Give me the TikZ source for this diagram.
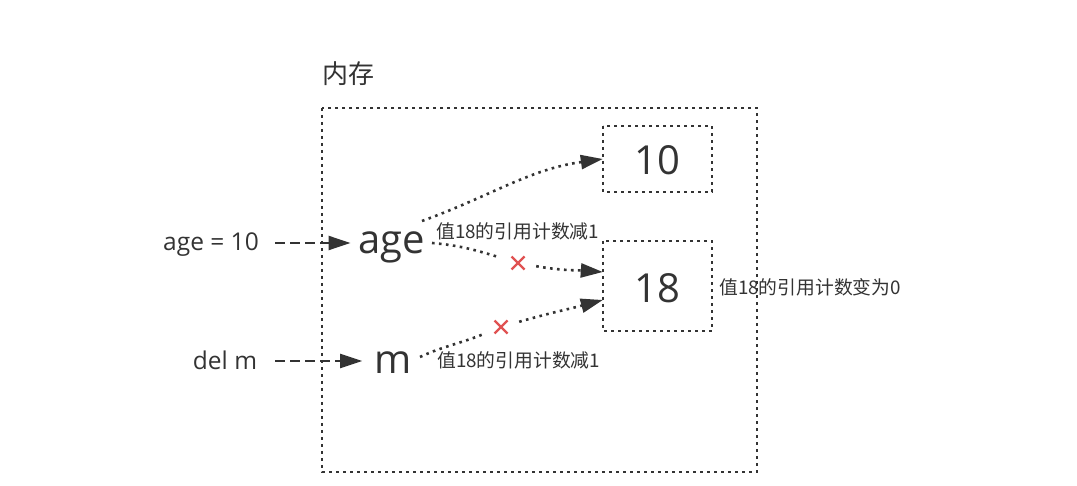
\documentclass[tikz,border=0pt]{standalone}
\usepackage{fontspec}
\setmainfont{Open Sans}
\newfontfamily\cjk{Noto Sans CJK SC}
\usetikzlibrary{arrows.meta}
\definecolor{ink}{HTML}{333333}
\definecolor{crossred}{HTML}{E05252}
\tikzset{
  dotline/.style={draw=ink, line width=2.6pt, dash pattern=on 2.6pt off 4.4pt},
  dotbox/.style={draw=ink, line width=2.6pt, dash pattern=on 2.6pt off 4.4pt},
  dashline/.style={draw=ink, line width=2.4pt, dash pattern=on 10pt off 5pt},
  tip/.style={-{Triangle[length=22pt,width=14pt]}},
  smalltext/.style={text=ink, inner sep=0pt, font=\fontsize{24.5pt}{28pt}\selectfont},
  bigtext/.style={text=ink, inner sep=0pt, font=\fontsize{40pt}{46pt}\selectfont},
  cjklabel/.style={text=ink, inner sep=0pt, font=\cjk\fontsize{18.8pt}{21pt}\selectfont},
  crossmark/.style={minimum size=36pt, inner sep=0pt,
    path picture={\draw[crossred, line width=2.4pt]
      ([shift={(-6.5pt,-6.5pt)}]path picture bounding box.center) -- ([shift={(6.5pt,6.5pt)}]path picture bounding box.center)
      ([shift={(-6.5pt,6.5pt)}]path picture bounding box.center) -- ([shift={(6.5pt,-6.5pt)}]path picture bounding box.center);}},
}
\begin{document}
\begin{tikzpicture}[x=1pt, y=-1pt]
\useasboundingbox (0,0) rectangle (1077,486);

% memory box
\draw[dotbox] (322,108) rectangle (757,472);
\node[text=ink, inner sep=0pt, anchor=west, font=\cjk\fontsize{26pt}{29pt}\selectfont] (mem) at (322,74) {内存};

% value boxes
\draw[dotbox] (603,126) rectangle (712,192);
\node[inner sep=0pt, minimum width=109pt, minimum height=66pt] (b10) at (657.5,159) {};
\node[bigtext] (t10) at (657.5,160) {10};
\draw[dotbox] (603,241) rectangle (712,331);
\node[inner sep=0pt, minimum width=109pt, minimum height=90pt] (b18) at (657.5,286) {};
\node[bigtext] (t18) at (657.5,288) {18};

% left statements
\node[smalltext] (stmt1) at (211,245) {age = 10};
\node[smalltext] (stmt2) at (225,360) {del m};

% variables
\node[bigtext, anchor=base] (age) at (392,254) {age};
\node[bigtext, anchor=base] (m) at (393,374) {m};

% dashed arrows
\coordinate (s1) at (275,243);
\coordinate (s2) at (275,361);
\draw[dashline, tip] (s1) -- ([xshift=-8pt]age.west |- s1);
\draw[dashline, tip] (s2) -- ([xshift=-12pt]m.west |- s2);

% crosses
\node[crossmark] (x1) at (518,263) {};
\node[crossmark] (x2) at (501,327) {};

% start points
\coordinate (a1) at (422,221);
\coordinate (a2) at (432,243);
\coordinate (m1) at (420,357);

% dotted connectors
\draw[dotline, tip] (a1) to[out=20, in=188] (b10.west);
\draw[dotline] (a2) to[out=-5, in=163] (x1);
\draw[dotline, tip] (x1) to[out=-10, in=176] ([yshift=14pt]b18.west);
\draw[dotline] (m1) to[out=25, in=202] (x2);
\draw[dotline, tip] (x2) to[out=16, in=195] ([yshift=-14pt]b18.west);

% labels
\node[cjklabel, anchor=west] (l1) at (436,231) {值18的引用计数减1};
\node[cjklabel, anchor=west] (l2) at (437,360) {值18的引用计数减1};
\node[cjklabel, anchor=west] (l3) at (719,287) {值18的引用计数变为0};
\end{tikzpicture}
\end{document}
